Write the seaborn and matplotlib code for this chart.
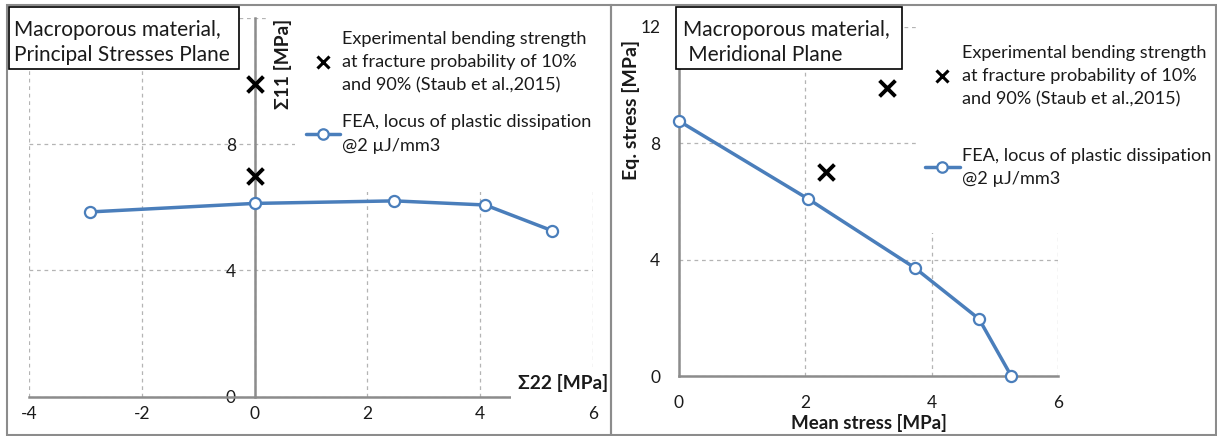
import matplotlib
matplotlib.use("Agg")
import matplotlib.pyplot as plt
import seaborn as sns
from matplotlib.lines import Line2D
from matplotlib.patches import Rectangle

# Principal stresses plane (FEA locus and experimental points)
s22_fea = [-2.92, 0.0, 2.48, 4.09, 5.27]
s11_fea = [5.85, 6.12, 6.20, 6.07, 5.26]
s22_exp = [0.0, 0.0]
s11_exp = [9.9, 7.0]

# Meridional plane
mean_fea = [0.0, 2.04, 3.73, 4.75, 5.26]
eq_fea = [8.76, 6.09, 3.72, 1.96, 0.0]
mean_exp = [3.3, 2.33]
eq_exp = [9.9, 7.0]

left_xticks = [-4, -2, 0, 2, 4, 6]
right_xticks = [0, 2, 4, 6]
yticks = [0, 4, 8, 12]
left_ylabels = ["0", "4", "8", ""]   # 12 is hidden under the title box

exp_label = "Experimental bending strength\nat fracture probability of 10%\nand 90% (Staub et al.,2015)"
fea_label = "FEA, locus of plastic dissipation\n@2 \u00b5J/mm3"

sns.set_theme(style="white")
plt.rcParams["font.family"] = ["Lato", "DejaVu Sans"]
plt.rcParams["axes.unicode_minus"] = False

W, H = 1217, 436
BLUE = "#4A7EBB"
GRID = "#b4b4b4"
SPINE = "#8c8c8c"
TXT = "#1a1a1a"


def fx(px):
    return px / W


def fy(py):
    return 1 - py / H


fig = plt.figure(figsize=(W / 100, H / 100), dpi=100)
fig.patch.set_facecolor("white")

# axes rectangles (pixel-measured plot areas)
axL = fig.add_axes([fx(29), fy(396.7), fx(593) - fx(29), fy(17.7) - fy(396.7)])
axR = fig.add_axes([fx(679), fy(376), fx(1058) - fx(679), fy(26.7) - fy(376)])


def style_axes(ax, xticks):
    ax.set_facecolor("white")
    ax.set_axisbelow(True)
    ax.set_xticks(xticks)
    ax.set_yticks(yticks)
    ax.grid(True, color=GRID, linestyle=(0, (3, 3)), linewidth=0.9)
    for s in ["top", "right"]:
        ax.spines[s].set_visible(False)
    for s in ["left", "bottom"]:
        ax.spines[s].set_color(SPINE)
        ax.spines[s].set_linewidth(1.8)
    ax.tick_params(axis="both", colors=SPINE, labelcolor=TXT, labelsize=12.5,
                   width=1.5, direction="out")
    ax.tick_params(axis="y", length=5, pad=8.5)
    ax.tick_params(axis="x", length=4.5)


# ---------------- left panel ----------------
style_axes(axL, left_xticks)
axL.set_yticklabels(left_ylabels)
axL.set_xlim(-4, 6)
axL.set_ylim(0, 12)
axL.spines["left"].set_position(("data", 0))
axL.tick_params(axis="x", pad=2.5)
axL.add_patch(Rectangle((0.72, 6.48), 6.0, 6.0, facecolor="white",
                        edgecolor="none", zorder=1, clip_on=False))

sns.lineplot(x=s22_fea, y=s11_fea, sort=False, ax=axL, color=BLUE, lw=2.5,
             marker="o", markersize=8, markerfacecolor="white",
             markeredgecolor=BLUE, markeredgewidth=1.6, clip_on=False,
             zorder=4)
sns.scatterplot(x=s22_exp, y=s11_exp, ax=axL, marker="x", s=130, color="black",
                linewidth=2.8, zorder=5, clip_on=False)

axL.set_ylabel("\u03a311 [MPa]", fontsize=13.8, fontweight="bold", color=TXT,
               bbox=dict(facecolor="white", edgecolor="none", pad=4))
axL.yaxis.set_label_coords(0.450, 0.878)
axL.yaxis.label.set_va("center")
axL.set_xlabel("")
axL.text(5.47, 13.7 / 31.58, "\u03a322 [MPa]", fontsize=13.8, fontweight="bold",
         color=TXT, ha="center", va="center", zorder=6,
         bbox=dict(facecolor="white", edgecolor="none", pad=5))

# ---------------- right panel ----------------
style_axes(axR, right_xticks)
axR.set_xlim(0, 6)
axR.set_ylim(0, 12)
axR.tick_params(axis="x", pad=9)
axR.add_patch(Rectangle((3.75, 4.9), 3.0, 8.0, facecolor="white",
                        edgecolor="none", zorder=1, clip_on=False))

sns.lineplot(x=mean_fea, y=eq_fea, sort=False, ax=axR, color=BLUE, lw=2.5,
             marker="o", markersize=8, markerfacecolor="white",
             markeredgecolor=BLUE, markeredgewidth=1.6, clip_on=False,
             zorder=4)
sns.scatterplot(x=mean_exp, y=eq_exp, ax=axR, marker="x", s=130, color="black",
                linewidth=2.8, zorder=5, clip_on=False)

axR.set_xlabel("Mean stress [MPa]", fontsize=13.5, fontweight="bold", color=TXT)
axR.xaxis.set_label_coords(0.5, (376 - 423) / 349.3)
axR.xaxis.label.set_va("center")
axR.set_ylabel("Eq. stress [MPa]", fontsize=14, fontweight="bold", color=TXT)
axR.yaxis.set_label_coords((631 - 679) / 379, (376 - 110) / 349.3)
axR.yaxis.label.set_va("center")

# ---------------- legends ----------------
h_exp = Line2D([], [], color="black", marker="x", linestyle="none",
               markersize=9, markeredgewidth=2.2)
h_fea = Line2D([], [], color=BLUE, lw=2.5, marker="o", markersize=7.5,
               markerfacecolor="white", markeredgecolor=BLUE,
               markeredgewidth=1.6)

legL = axL.legend([h_exp, h_fea], [exp_label, fea_label], loc="upper left",
                  bbox_to_anchor=(fx(306), fy(31)),
                  bbox_transform=fig.transFigure, frameon=False,
                  fontsize=13.1, handlelength=1.85, handletextpad=0.12,
                  labelspacing=1.15, borderpad=0, borderaxespad=0)
legR = axR.legend([h_exp, h_fea], [exp_label, fea_label], loc="upper left",
                  bbox_to_anchor=(fx(925), fy(45)),
                  bbox_transform=fig.transFigure, frameon=False,
                  fontsize=13.1, handlelength=1.9, handletextpad=0.12,
                  labelspacing=2.2, borderpad=0, borderaxespad=0)
for leg in (legL, legR):
    for t in leg.get_texts():
        t.set_color(TXT)
        t.set_linespacing(1.55)

# ---------------- panel borders and title boxes ----------------
for x0, x1 in [(7, 611), (611, 1216)]:
    fig.patches.append(Rectangle((fx(x0), fy(435)), fx(x1) - fx(x0),
                                 fy(5) - fy(435), transform=fig.transFigure,
                                 fill=False, edgecolor=SPINE, lw=1.5, zorder=0.1))

titles = [("Macroporous material,\nPrincipal Stresses Plane", 8.5, 239, 14),
          ("Macroporous material,\n Meridional Plane", 676, 902, 683)]
for txt, x0, x1, tx in titles:
    fig.patches.append(Rectangle((fx(x0), fy(69)), fx(x1) - fx(x0),
                                 fy(7) - fy(69), transform=fig.transFigure,
                                 facecolor="white", edgecolor="black", lw=1.2,
                                 zorder=10))
    fig.text(fx(tx), fy(42.5), txt, fontsize=15, color=TXT, ha="left",
             va="center", linespacing=1.3, zorder=11)

fig.savefig("out.png", dpi=100)
